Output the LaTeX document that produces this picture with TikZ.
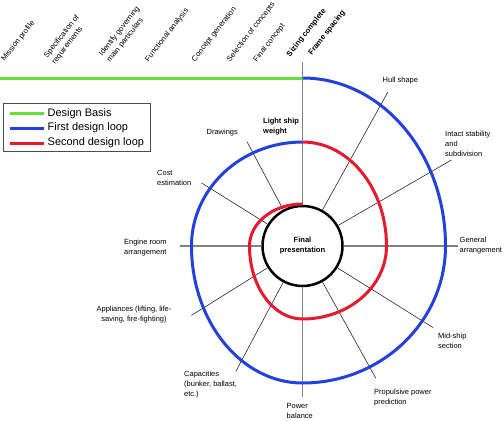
\documentclass[tikz,border=0pt]{standalone}
\usepackage{fontspec}
\setmainfont{Liberation Sans}
\usetikzlibrary{positioning}
\definecolor{basisgreen}{RGB}{100,225,50}
\definecolor{loopblue}{RGB}{35,65,225}
\definecolor{loopred}{RGB}{230,25,45}
\definecolor{axisgray}{RGB}{130,130,130}

\begin{document}
\begin{tikzpicture}[x=1bp, y=1bp,
    lbl/.style={font=\fontsize{7.5}{10}\selectfont, inner sep=0pt, align=left},
    boldlbl/.style={lbl, font=\fontsize{7.5}{10}\selectfont\bfseries},
    toplbl/.style={lbl, font=\fontsize{7.7}{10}\selectfont, rotate=52, anchor=south west},
    legtext/.style={font=\fontsize{11}{13}\selectfont, inner sep=2bp, text height=8bp, text depth=2.5bp},
    axis/.style={draw=axisgray, line width=1.5bp},
    spoke/.style={draw=black!85, line width=0.6bp},
    basis/.style={draw=basisgreen, line width=3bp},
    first/.style={draw=loopblue, line width=3bp},
    second/.style={draw=loopred, line width=3bp}]
\useasboundingbox (0,0) rectangle (504,420);

\node[circle, draw, line width=2.5bp, minimum size=80bp, inner sep=0pt,
    font=\fontsize{7.6}{10}\selectfont\bfseries, align=center] (final) at (302.5,174) {Final\\presentation};

% axes
\coordinate (topend) at ([shift={(90:184)}]final.center);
\coordinate (garend) at ([shift={(0:155.5)}]final.center);
\coordinate (powend) at ([shift={(270:151)}]final.center);
\coordinate (engend) at ([shift={(180:122.5)}]final.center);
\draw[axis] (final.north) -- (topend);
\draw[axis] (final.east) -- (garend);
\draw[axis] (final.south) -- (powend);
\draw[axis] (final.west) -- (engend);

% spokes
\coordinate (hullend) at ([shift={(61:176)}]final.center);
\coordinate (intactend) at ([shift={(30:172)}]final.center);
\coordinate (midend) at ([shift={(-32:154)}]final.center);
\coordinate (propend) at ([shift={(-61:151)}]final.center);
\coordinate (capend) at ([shift={(242:142)}]final.center);
\coordinate (applend) at ([shift={(212:131)}]final.center);
\coordinate (costend) at ([shift={(148:119)}]final.center);
\coordinate (drwend) at ([shift={(118:118)}]final.center);
\draw[spoke] (final.61) -- (hullend);
\draw[spoke] (final.30) -- (intactend);
\draw[spoke] (final.-32) -- (midend);
\draw[spoke] (final.-61) -- (propend);
\draw[spoke] (final.242) -- (capend);
\draw[spoke] (final.212) -- (applend);
\draw[spoke] (final.148) -- (costend);
\draw[spoke] (final.118) -- (drwend);

% design basis, then the two loops
\coordinate (basisstart) at (0,342);
\coordinate (bluetop) at ([shift={(0,168)}]final.center);
\draw[basis] (basisstart) -- (bluetop);
\draw[first] (bluetop)
    arc[start angle=90, end angle=0, x radius=143bp, y radius=168bp]
    arc[start angle=0, end angle=-90, x radius=143bp, y radius=137bp]
    arc[start angle=-90, end angle=-180, x radius=111bp, y radius=137bp]
    arc[start angle=180, end angle=90, x radius=111bp, y radius=104bp] coordinate (redtop);
\draw[second] (redtop)
    arc[start angle=90, end angle=0, x radius=84bp, y radius=104bp]
    arc[start angle=0, end angle=-90, x radius=84bp, y radius=73bp]
    arc[start angle=-90, end angle=-180, x radius=53bp, y radius=73bp]
    arc[start angle=180, end angle=90, x radius=53bp, y radius=42bp];

% labels round the loops
\node[lbl, anchor=west] (hull) at (382.5,339) {Hull shape};
\node[lbl, anchor=west] (intact) at (445,276) {Intact stability\\and\\subdivision};
\node[lbl, right=1.5bp of garend] (gar) {General\\arrangement};
\node[lbl, anchor=west] (mid) at (438,79) {Mid-ship\\section};
\node[lbl, anchor=west] (prop) at (374,22.3) {Propulsive power\\prediction};
\node[lbl, anchor=west] (pow) at (286.5,9.3) {Power\\balance};
\node[lbl, anchor=west] (cap) at (184,35.7) {Capacities\\(bunker, ballast,\\etc.)};
\node[lbl, align=center] (appl) at (134,105) {Appliances (lifting, life-\\saving, fire-fighting)};
\node[lbl, anchor=west] (eng) at (124,172.3) {Engine room\\arrangement};
\node[lbl, anchor=west] (cost) at (157,242.3) {Cost\\estimation};
\node[lbl, anchor=west] (drw) at (206.5,287.7) {Drawings};
\node[boldlbl, anchor=west] (lsw) at (263,293) {Light ship\\weight};

% design basis steps
\node[toplbl] (mission) at (6,357) {Mission profile};
\node[toplbl] (spec) at (56.5,354.3) {Specification of\\requirements};
\node[toplbl] (ident) at (111.5,356) {Identify governing\\main particulars};
\node[toplbl] (func) at (149.8,356.7) {Functional analysis};
\node[toplbl] (cgen) at (196.5,356.7) {Concept generation};
\node[toplbl] (csel) at (231.5,356.7) {Selection of concepts};
\node[toplbl] (fconc) at (258.2,356.7) {Final concept};
\node[toplbl, font=\fontsize{7.7}{10}\selectfont\bfseries] (sizing) at (291.5,361.7) {Sizing complete};
\node[toplbl, font=\fontsize{7.7}{10}\selectfont\bfseries] (frame) at (313.2,363.3) {Frame spacing};

% legend
\node[legtext, anchor=west] (lbasis) at (45.5,306.7) {Design Basis};
\node[legtext, below=0bp of lbasis.south west, anchor=north west] (lfirst) {First design loop};
\node[legtext, below=0bp of lfirst.south west, anchor=north west] (lsecond) {Second design loop};
\draw[basis] ([xshift=-35.5bp]lbasis.west) -- ([xshift=-1.5bp]lbasis.west);
\draw[first] ([xshift=-35.5bp]lfirst.west) -- ([xshift=-1.5bp]lfirst.west);
\draw[second] ([xshift=-35.5bp]lsecond.west) -- ([xshift=-1.5bp]lsecond.west);
\draw[draw=black!70, line width=0.8bp] (3.3,316.7) rectangle (150.7,269);
\end{tikzpicture}
\end{document}
